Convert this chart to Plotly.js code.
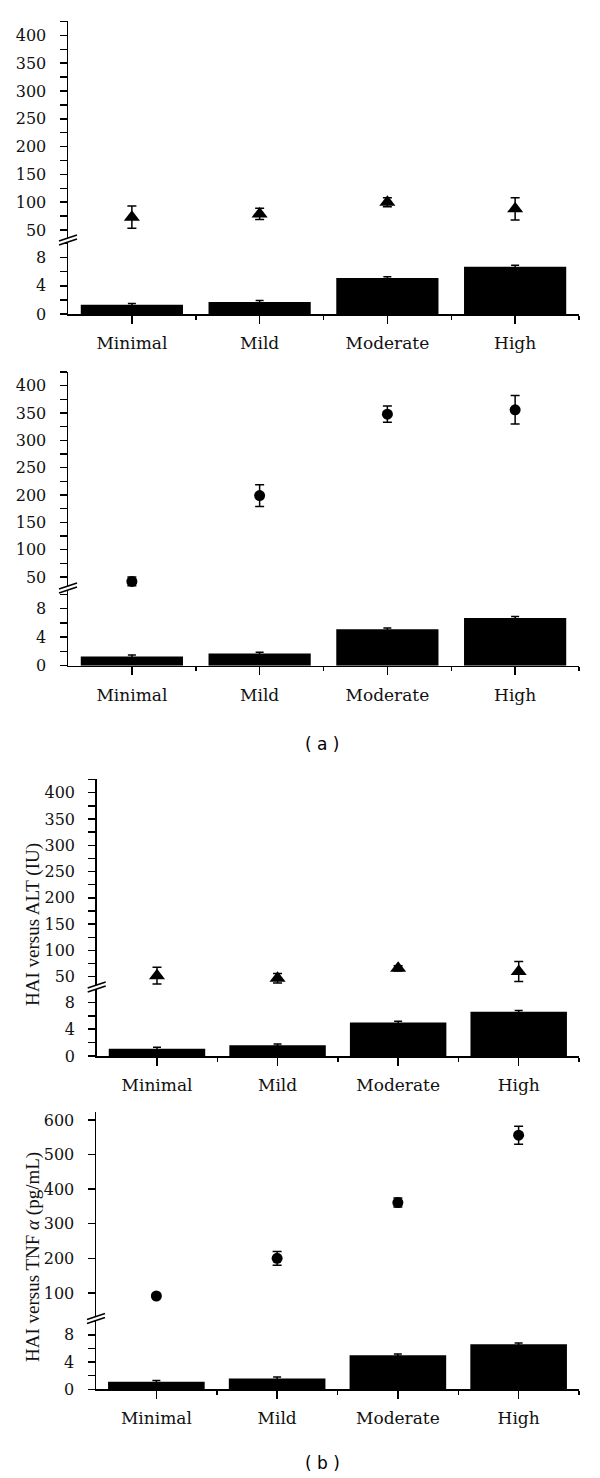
<!DOCTYPE html>
<html><head><meta charset="utf-8">
<script src="https://cdn.plot.ly/plotly-3.0.1.min.js"></script>
<style>html,body{margin:0;padding:0;background:#fff}</style>
</head><body><div id="chart" style="width:600px;height:1478px"></div>
<script>
// ---- data ----
const categories = ['Minimal', 'Mild', 'Moderate', 'High'];
const haiA = [1.3, 1.7, 5.1, 6.7];
const haiAErr = [0.2, 0.2, 0.2, 0.2];
const haiB = [1.1, 1.6, 5.0, 6.6];
const haiBErr = [0.2, 0.2, 0.2, 0.2];
const altA = [73, 79, 100, 88];
const altAErr = [20, 10, 8, 20];
const tnfA = [42, 199, 348, 356];
const tnfAErr = [8, 20, 15, 26];
const altB = [52, 47, 66, 60];
const altBErr = [16, 9, 5, 19];
const tnfB = [91, 200, 361, 556];
const tnfBErr = [5, 20, 13, 26];
const yTitleALT = 'HAI versus ALT (IU)';
const yTitleTNF = 'HAI versus TNF <i>α</i> (pg/mL)';
const panelLabels = ['( a )', '( b )'];

// ---- layout config (pixels) ----
const W = 600, H = 1478;
const panels = [
  {bars: haiA, barErr: haiAErr, pts: altA, ptsErr: altAErr, symbol: 'triangle-up', msize: 14,
   xl: 68, xr: 579, zero: 314, brk: 240, top: 21, lowMax: 10.5, upRange: [32, 426], dtick: 50, minor: 25},
  {bars: haiA, barErr: haiAErr, pts: tnfA, ptsErr: tnfAErr, symbol: 'circle', msize: 11,
   xl: 68, xr: 579, zero: 665.7, brk: 588, top: 371.5, lowMax: 10.9, upRange: [30, 426], dtick: 50, minor: 25},
  {bars: haiB, barErr: haiBErr, pts: altB, ptsErr: altBErr, symbol: 'triangle-up', msize: 14,
   xl: 96.7, xr: 579, zero: 1056, brk: 987, top: 779, lowMax: 10.3, upRange: [30.5, 426], dtick: 50, minor: 25},
  {bars: haiB, barErr: haiBErr, pts: tnfB, ptsErr: tnfBErr, symbol: 'circle', msize: 11,
   xl: 96, xr: 579, zero: 1389.3, brk: 1318.5, top: 1112.3, lowMax: 10.4, upRange: [26, 622], dtick: 100, minor: null}
];

const xIdx = categories.map((c, i) => i);
const serif = 'Liberation Serif';
const tickSerif = 'DejaVu Serif';
const px = x => x / W;
const py = y => 1 - y / H;

const traces = [];
const layout = {
  width: W, height: H,
  margin: {l: 0, r: 0, t: 0, b: 0},
  paper_bgcolor: '#fff', plot_bgcolor: 'rgba(0,0,0,0)',
  font: {family: serif, size: 19, color: '#111'},
  showlegend: false,
  shapes: [], annotations: []
};

panels.forEach((p, k) => {
  const xn = k === 0 ? '' : String(k + 1);
  const yl = String(2 * k + 1), yu = String(2 * k + 2);
  const ylName = yl === '1' ? '' : yl;
  traces.push({
    type: 'bar', x: xIdx, y: p.bars, width: 0.8,
    xaxis: 'x' + xn, yaxis: 'y' + ylName,
    marker: {color: '#000', line: {width: 0}},
    error_y: {type: 'data', array: p.barErr, visible: true, color: '#000', thickness: 1.5, width: 4},
    hoverinfo: 'skip'
  });
  traces.push({
    type: 'scatter', mode: 'markers', x: xIdx, y: p.pts,
    xaxis: 'x' + xn, yaxis: 'y' + yu,
    marker: {color: '#000', size: p.msize, symbol: p.symbol},
    error_y: {type: 'data', array: p.ptsErr, visible: true, color: '#000', thickness: 1.5, width: 4.5},
    hoverinfo: 'skip'
  });
  layout['xaxis' + xn] = {
    domain: [px(p.xl), px(p.xr)], anchor: 'y' + ylName,
    range: [-0.5, 3.5], showgrid: false, zeroline: false,
    showline: true, linecolor: '#000', linewidth: 1.5,
    ticks: 'outside', ticklen: 8, tickwidth: 1.5, tickcolor: '#000',
    tickmode: 'array', tickvals: xIdx, ticktext: categories,
    ticklabelstandoff: 5,
    tickfont: {family: tickSerif, size: 17, color: '#111'},
    minor: {tickmode: 'array', tickvals: xIdx.map(i => i + 0.5), ticks: 'outside', ticklen: 4, tickwidth: 1.5, tickcolor: '#000'},
    fixedrange: true
  };
  const yCommon = {
    anchor: 'x' + xn, showgrid: false, zeroline: false,
    showline: true, linecolor: '#000', linewidth: 1.5,
    ticks: 'outside', ticklen: 7, tickwidth: 1.5, tickcolor: '#000',
    tickfont: {family: tickSerif, size: 16, color: '#111'},
    ticklabelstandoff: 10,
    fixedrange: true
  };
  layout['yaxis' + ylName] = Object.assign({}, yCommon, {
    domain: [py(p.zero), py(p.brk)], range: [0, p.lowMax],
    tickmode: 'linear', tick0: 0, dtick: 4,
    minor: {tick0: 0, dtick: 2, ticks: 'outside', ticklen: 7, tickwidth: 1.5, tickcolor: '#000'}
  });
  const up = Object.assign({}, yCommon, {
    domain: [py(p.brk), py(p.top)], range: p.upRange,
    tickmode: 'linear', tick0: 0, dtick: p.dtick
  });
  if (p.minor) up.minor = {tick0: 0, dtick: p.minor, ticks: 'outside', ticklen: 7, tickwidth: 1.5, tickcolor: '#000'};
  layout['yaxis' + yu] = up;

  // axis-break mark
  const cx = p.xl, cy = p.brk;
  const pt = (x, y) => px(x) + ',' + py(y);
  layout.shapes.push({
    type: 'path', xref: 'paper', yref: 'paper', layer: 'above',
    path: 'M' + pt(cx - 9, cy + 1) + 'L' + pt(cx + 9, cy - 5) + 'L' + pt(cx + 9, cy - 1) + 'L' + pt(cx - 9, cy + 5) + 'Z',
    fillcolor: '#fff', line: {width: 0}
  });
  [-2, 2].forEach(d => {
    layout.shapes.push({
      type: 'line', xref: 'paper', yref: 'paper', layer: 'above',
      x0: px(cx - 9), y0: py(cy + d + 3), x1: px(cx + 9), y1: py(cy + d - 3),
      line: {color: '#000', width: 1.5}
    });
  });
});

// y titles
layout.annotations.push({
  xref: 'paper', yref: 'paper', x: px(33), y: py(925), text: yTitleALT, showarrow: false,
  textangle: -90, xanchor: 'center', yanchor: 'middle', font: {family: serif, size: 19, color: '#111'}
});
layout.annotations.push({
  xref: 'paper', yref: 'paper', x: px(33), y: py(1257), text: yTitleTNF, showarrow: false,
  textangle: -90, xanchor: 'center', yanchor: 'middle', font: {family: serif, size: 19, color: '#111'}
});
// panel labels
[[744, panelLabels[0]], [1463, panelLabels[1]]].forEach(([y, t]) => {
  layout.annotations.push({
    xref: 'paper', yref: 'paper', x: px(322), y: py(y), text: t, showarrow: false,
    xanchor: 'center', yanchor: 'middle', font: {family: 'DejaVu Sans', size: 17, color: '#000'}
  });
});

Plotly.newPlot('chart', traces, layout, {staticPlot: true, displayModeBar: false});
</script></body></html>
